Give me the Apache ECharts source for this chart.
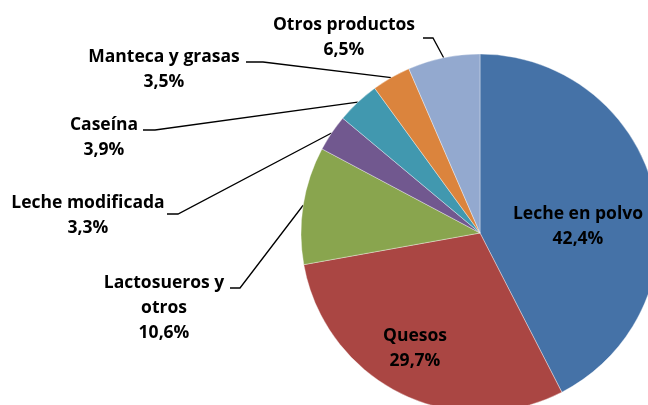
<!DOCTYPE html>
<html>
<head>
<meta charset="utf-8">
<script src="https://cdn.jsdelivr.net/npm/echarts@6/dist/echarts.min.js"></script>
<style>
html,body{margin:0;padding:0;background:#fff;}
#chart{width:648px;height:405px;}
</style>
</head>
<body>
<div id="chart"></div>
<script>
const categories = ['Leche en polvo', 'Quesos', 'Lactosueros y\notros', 'Leche modificada', 'Caseína', 'Manteca y grasas', 'Otros productos'];
const values = [42.4, 29.7, 10.6, 3.3, 3.9, 3.5, 6.5];
const colors = ['#4572A7', '#AA4643', '#89A54E', '#71588F', '#4198AF', '#DB843D', '#93A9CF'];

// label layout (anchor = centre of label block; hook = where leader line meets the label)
const labelLayouts = [
  { x: 578, y: 227 },
  { x: 415, y: 349 },
  { x: 164, y: 308, hook: [[240, 288], [230, 288]] },
  { x: 88,  y: 216, hook: [[178, 214], [167, 214]] },
  { x: 104, y: 138, hook: [[155, 130], [143, 130]] },
  { x: 164, y: 70,  hook: [[263, 62], [246, 62]] },
  { x: 344, y: 38,  hook: [[433, 38], [423, 38]] }
];

const chart = echarts.init(document.getElementById('chart'), null, { renderer: 'canvas' });
const fmt = v => v.toFixed(1).replace('.', ',') + '%';

chart.setOption({
  animation: false,
  series: [{
    type: 'pie',
    center: [480, 233],
    radius: 179,
    startAngle: 90,
    clockwise: true,
    avoidLabelOverlap: false,
    itemStyle: { borderColor: 'rgba(255,255,255,0.6)', borderWidth: 0.6 },
    label: {
      show: true,
      position: 'outside',
      formatter: p => p.name + '\n' + fmt(p.value),
      fontFamily: 'Open Sans',
      fontWeight: 'bold',
      fontSize: 17.5,
      lineHeight: 25,
      color: '#000',
      align: 'center'
    },
    labelLine: { show: true, length: 10, length2: 10, lineStyle: { color: '#000', width: 1.3 } },
    labelLayout: function (params) {
      const L = labelLayouts[params.dataIndex];
      const out = { x: L.x, y: L.y, align: 'center', verticalAlign: 'middle' };
      if (L.hook && params.labelLinePoints) {
        out.labelLinePoints = [params.labelLinePoints[0], L.hook[0], L.hook[1]];
      }
      return out;
    },
    data: categories.map((c, i) => ({
      name: c,
      value: values[i],
      itemStyle: { color: colors[i] },
      label: i < 2 ? { position: 'inside' } : undefined,
      labelLine: i < 2 ? { show: false } : undefined
    }))
  }]
});
</script>
</body>
</html>
